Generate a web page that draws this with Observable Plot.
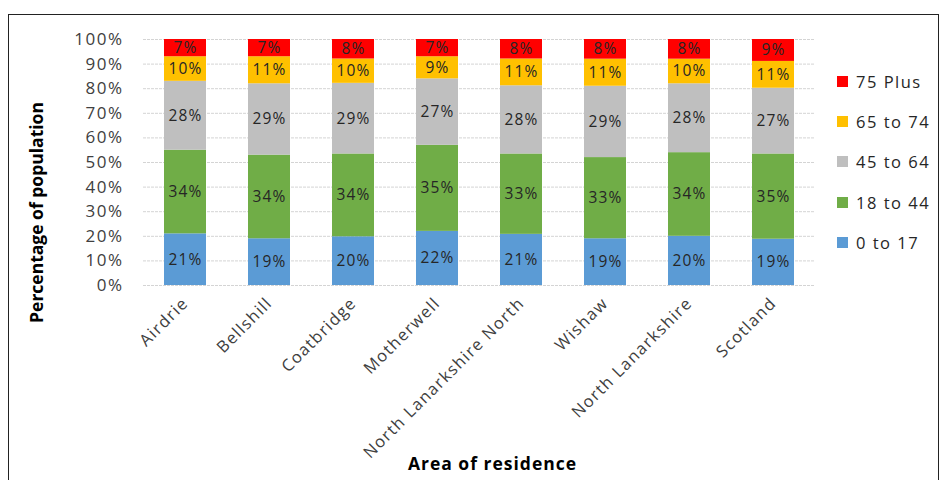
<!DOCTYPE html>
<html>
<head>
<meta charset="utf-8">
<script src="https://cdn.jsdelivr.net/npm/d3@7"></script>
<script src="https://cdn.jsdelivr.net/npm/@observablehq/plot@0.6"></script>
<style>
  html, body { margin: 0; padding: 0; background: #fff; }
  #wrap { position: relative; width: 949px; height: 480px; overflow: hidden; font-family: "Open Sans", sans-serif; }
  #frame { position: absolute; left: 8px; top: 14px; width: 931px; height: 480px; border: 1.5px solid #222; box-sizing: border-box; pointer-events: none; }
  #chart { position: absolute; left: 0; top: 0; }
  #legend { position: absolute; left: 837px; top: 61px; }
  .item { display: flex; align-items: center; height: 40.3px; font-size: 16.5px; letter-spacing: 1.5px; color: #262626; }
  .sw { width: 11px; height: 11px; margin-right: 8px; }
  .ls-labels text { letter-spacing: 1.2px; }
  .ls-yticks text { letter-spacing: 1.5px; }
  .ls-xticks text { letter-spacing: 1.3px; }
  .ls-title text { letter-spacing: 1px; }
</style>
</head>
<body>
<div id="wrap">
  <div id="chart"></div>
  <div id="legend"></div>
  <div id="frame"></div>
</div>
<script>
// Areas of residence along the x axis
const areas = ["Airdrie", "Bellshill", "Coatbridge", "Motherwell", "North Lanarkshire North", "Wishaw", "North Lanarkshire", "Scotland"];

// Age bands, bottom of the stack first
const ageGroups = ["0 to 17", "18 to 44", "45 to 64", "65 to 74", "75 Plus"];
const ageColors = ["#5B9BD5", "#70AD47", "#BFBFBF", "#FFC000", "#FF0000"];

// Percentage of population in each age band, per area
const age0to17  = [21, 19, 20, 22, 21, 19, 20, 19];
const age18to44 = [34, 34, 34, 35, 33, 33, 34, 35];
const age45to64 = [28, 29, 29, 27, 28, 29, 28, 27];
const age65to74 = [10, 11, 10, 9, 11, 11, 10, 11];
const age75plus = [7, 7, 8, 7, 8, 8, 8, 9];

// Y axis tick values
const yTicks = [0, 0.1, 0.2, 0.3, 0.4, 0.5, 0.6, 0.7, 0.8, 0.9, 1];

const series = [age0to17, age18to44, age45to64, age65to74, age75plus];
const rows = [];
ageGroups.forEach((g, gi) => {
  areas.forEach((a, ai) => rows.push({area: a, group: g, value: series[gi][ai]}));
});

const stackOpts = {x: "area", y: "value", z: "group", offset: "normalize", order: null};

const chart = Plot.plot({
  width: 949,
  height: 480,
  marginLeft: 143,
  marginRight: 134,
  marginTop: 39,
  marginBottom: 195,
  style: {fontFamily: "Open Sans, sans-serif", color: "#262626", background: "transparent"},
  x: {domain: areas, paddingInner: 0.5, paddingOuter: 0.25, label: null},
  y: {domain: [0, 1], label: null},
  color: {domain: ageGroups, range: ageColors},
  marks: [
    Plot.gridY(yTicks, {stroke: "#d4d4d4", strokeOpacity: 1, strokeWidth: 1, strokeDasharray: "3,1"}),
    Plot.barY(rows, Plot.stackY({...stackOpts, fill: "group"})),
    Plot.text(rows, Plot.stackY({...stackOpts, text: d => d.value + "%", fill: "#262626", fontSize: 15.5, className: "ls-labels"})),
    Plot.axisY(yTicks, {tickFormat: d3.format(".0%"), tickSize: 0, tickPadding: 20, fontSize: 17, fill: "#404040", className: "ls-yticks"}),
    Plot.axisX({tickSize: 0, tickRotate: -45, tickPadding: 15, fontSize: 16.5, fill: "#404040", label: null, className: "ls-xticks"}),
    Plot.text(["Percentage of population"], {frameAnchor: "left", textAnchor: "middle", dx: -106, dy: 50, rotate: -90, fontSize: 17.5, fontWeight: "bold", fill: "#000", text: d => d}),
    Plot.text(["Area of residence"], {frameAnchor: "bottom", dx: 13, dy: 184, fontSize: 17.5, fontWeight: "bold", fill: "#000", text: d => d, className: "ls-title"})
  ]
});
document.getElementById("chart").appendChild(chart);

// Legend, top entry is the top of the stack
const legend = document.getElementById("legend");
for (let i = ageGroups.length - 1; i >= 0; i--) {
  const item = document.createElement("div");
  item.className = "item";
  item.innerHTML = `<span class="sw" style="background:${ageColors[i]}"></span><span>${ageGroups[i]}</span>`;
  legend.appendChild(item);
}
</script>
</body>
</html>
